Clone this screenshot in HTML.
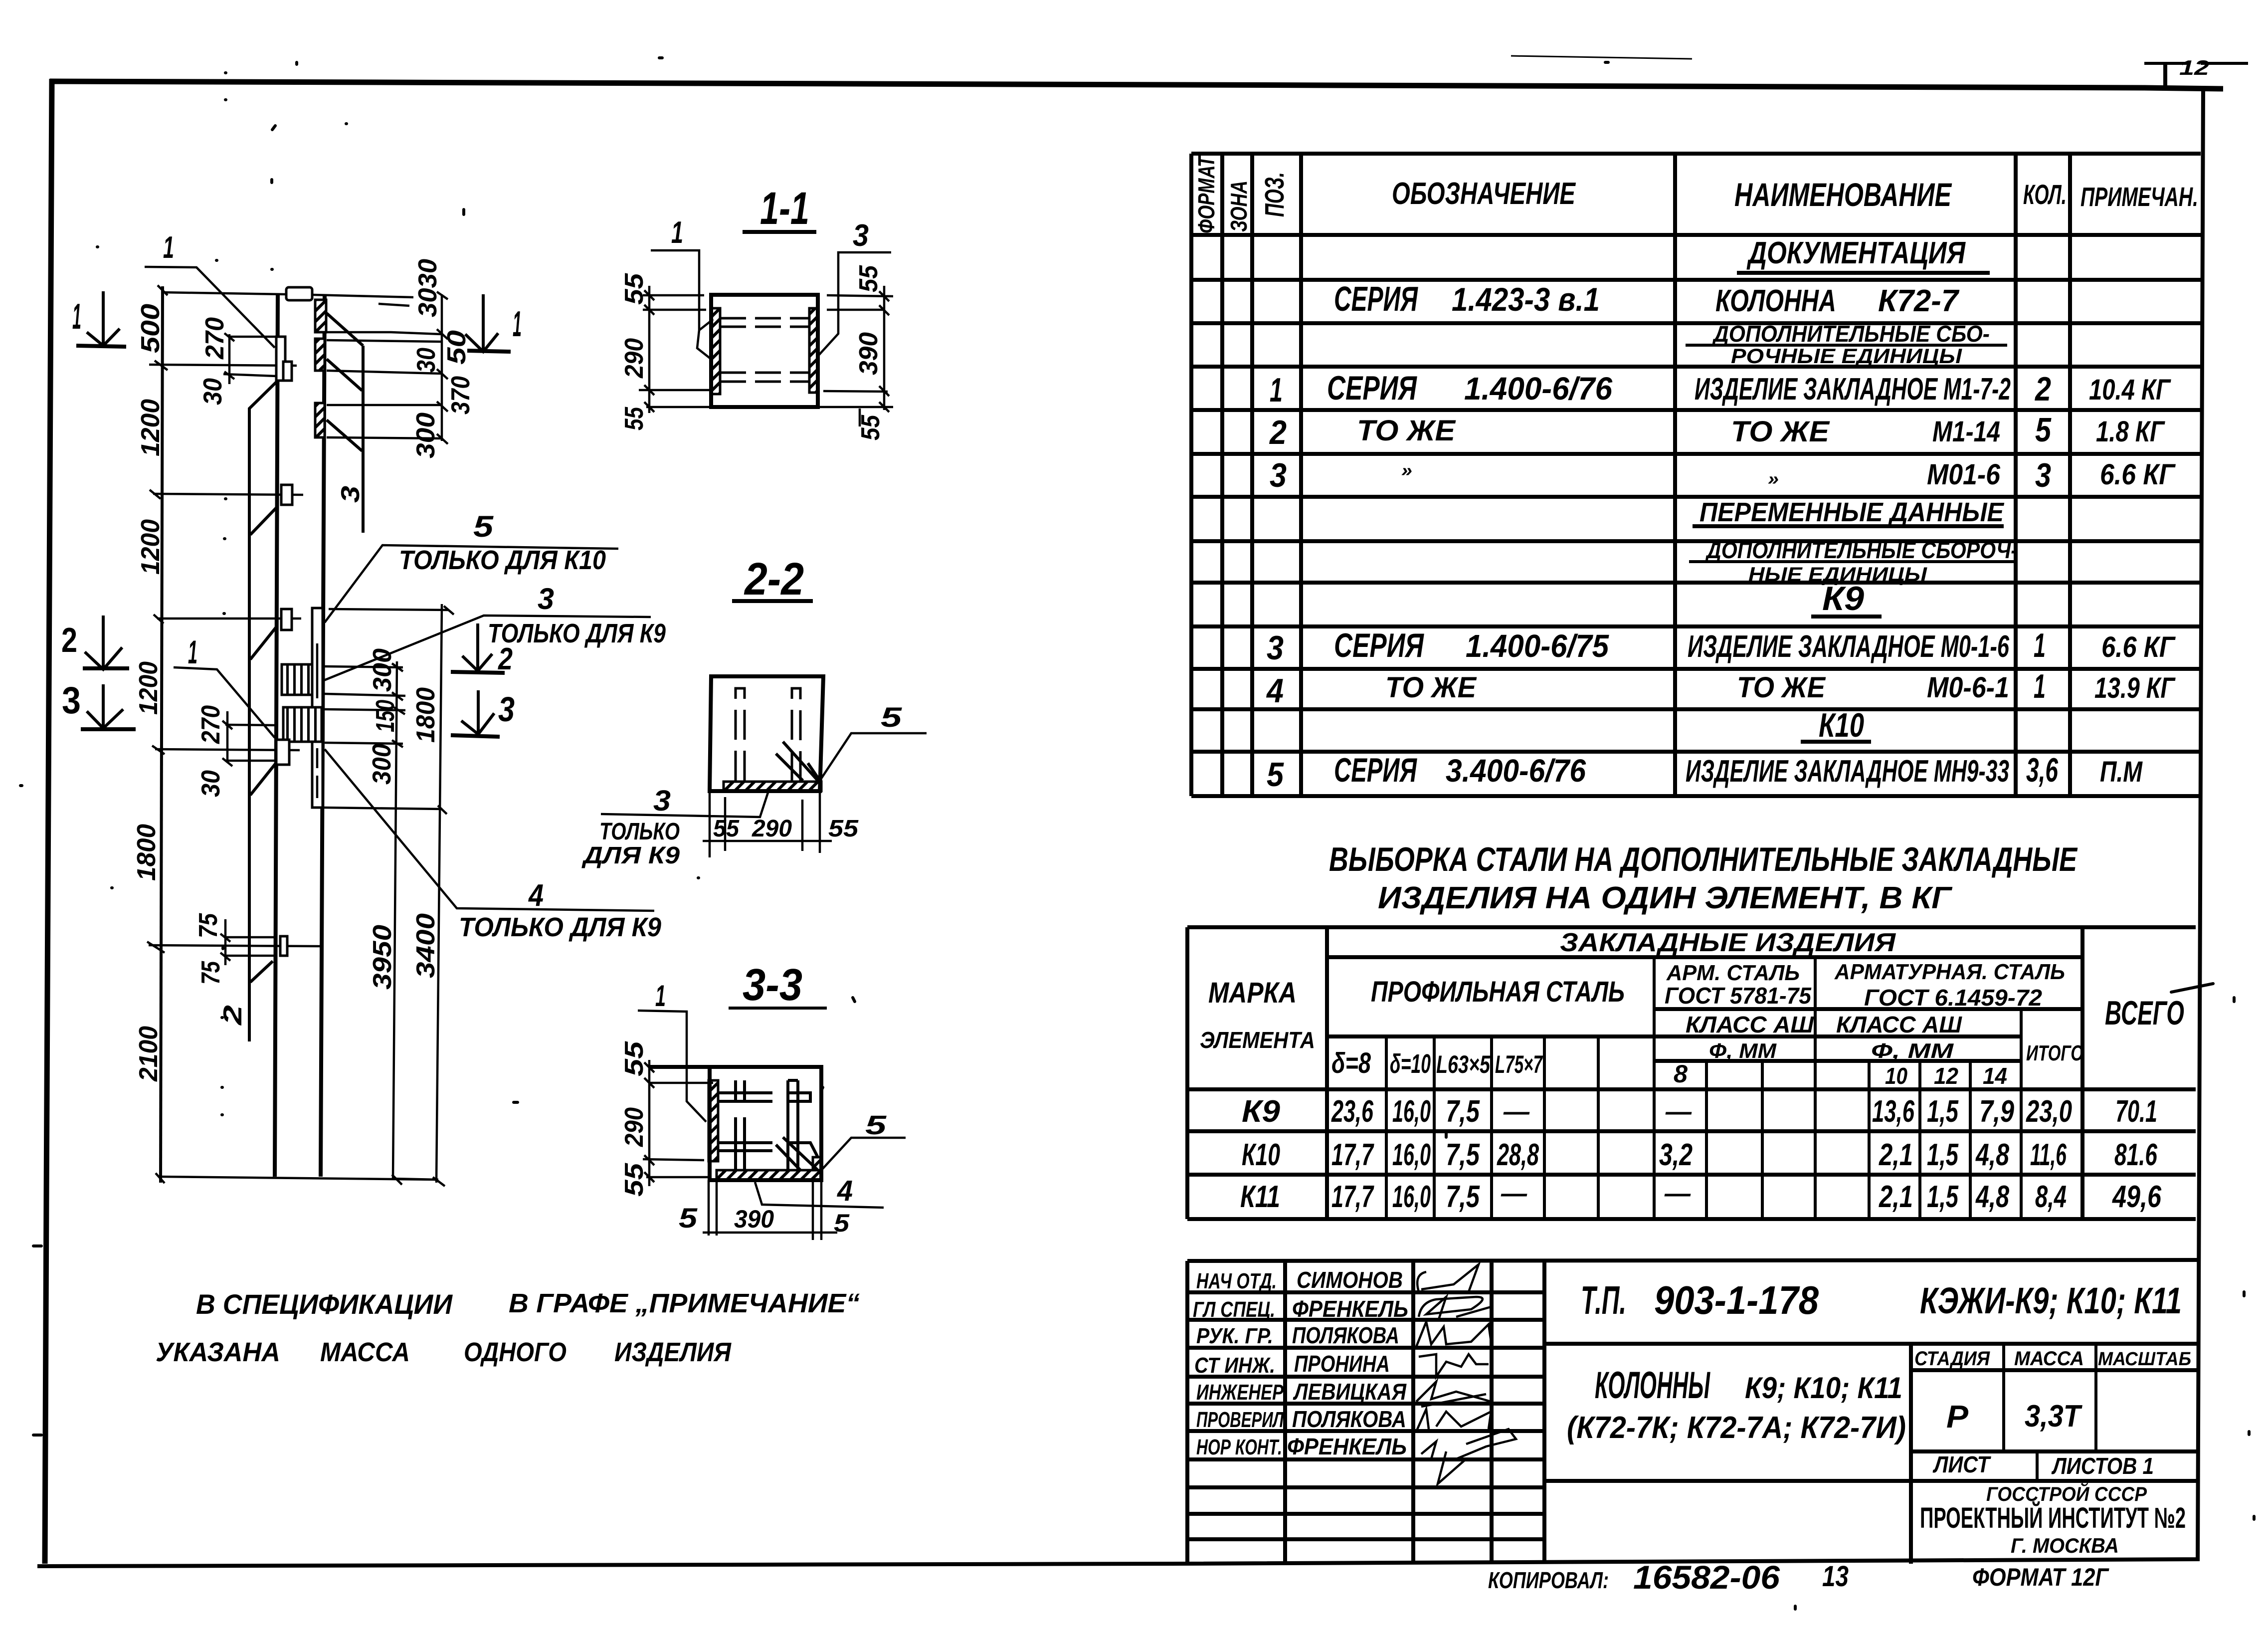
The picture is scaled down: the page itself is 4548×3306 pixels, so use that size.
<!DOCTYPE html>
<html lang="ru"><head><meta charset="utf-8"><title>Колонны К9; К10; К11</title>
<style>
html,body{margin:0;padding:0;background:#fff}
svg{display:block;font-family:"Liberation Sans","DejaVu Sans",sans-serif;font-style:italic;font-weight:bold;fill:#000;white-space:pre}
path,polyline,line{fill:none;stroke:#000;stroke-linecap:butt;stroke-linejoin:miter}
.f{stroke-width:11}.g{stroke-width:8}.m{stroke-width:6}.t{stroke-width:4.5}.x{stroke-width:3}
.d{stroke-width:5;stroke-dasharray:52 18}.d2{stroke-width:5;stroke-dasharray:60 22}
rect{stroke:#000;stroke-width:5}
pattern rect{stroke:none}
</style></head><body>
<svg width="4548" height="3306" viewBox="0 0 4548 3306">
<defs><pattern id="h" width="15" height="15" patternUnits="userSpaceOnUse" patternTransform="rotate(45)"><rect width="15" height="15" fill="#fff"/><rect width="6" height="15" fill="#000"/></pattern>
<pattern id="v" width="14" height="14" patternUnits="userSpaceOnUse"><rect width="14" height="14" fill="#fff"/><rect width="5" height="14" fill="#000"/></pattern></defs>

<!-- frame -->
<path class="f" d="M100,163L4300,176L4458,178M104,158L93,2400L90,3135"/>
<path class="g" d="M75,3140L2350,3135L4410,3126M4418,178L4407,3130"/>
<path class="g" d="M4342,125V178"/><path class="m" d="M4300,127H4392M4413,127H4508"/><path class="x" d="M3030,112L3393,118"/>
<text x="4370" y="150" font-size="42" textLength="60" lengthAdjust="spacingAndGlyphs">12</text>

<!-- main column elevation -->
<path class="g" d="M557,590L551,2359M651,590L643,2359"/>
<path class="m" d="M326,574L322,2371"/>
<path class="t" d="M323,586L572,590M626,591L829,596M299,731L595,733M307,990L608,992M315,1240L604,1240M311,1502L601,1504M298,1895L643,1897M319,2359L879,2365"/>
<rect x="574" y="576" width="52" height="26" rx="5" fill="#fff"/>
<rect x="564" y="972" width="22" height="40" fill="#fff"/><rect x="564" y="1221" width="21" height="42" fill="#fff"/><rect x="562" y="1877" width="14" height="39" fill="#fff"/>
<rect x="554" y="675" width="18" height="88" fill="#fff"/><rect x="568" y="725" width="17" height="38" fill="#fff"/>
<path class="t" d="M290,535L394,536L551,697"/>
<path class="m" d="M554,766L500,819V2088M554,1018L502,1072M554,1257L502,1322M554,1529L502,1594M547,1927L502,1969"/>
<rect x="632" y="601" width="22" height="65" fill="url(#h)"/><rect x="632" y="679" width="19" height="64" fill="url(#h)"/><rect x="632" y="808" width="19" height="69" fill="url(#h)"/>
<path class="m" d="M728,693V1068M655,628L728,693M655,720L726,783M655,842L726,904"/>
<path class="t" d="M655,666H784L886,670M655,682L886,685M655,743L886,749M655,812L886,812M655,877L886,879M886,590V884M759,609L821,613"/>
<!-- ticks -->
<path class="t" d="M316,572L336,592M310,723L336,742M300,982L322,1000M308,1232L328,1250M305,1495L330,1512M295,1888L330,1910M312,2352L330,2372M876,585L898,600M876,660L898,680M876,740L898,760M876,805L898,825M876,870L898,890M450,668L470,684M450,745L470,760M890,1215L910,1232M878,1615L896,1632M786,2355L806,2375M868,2360L892,2378M786,1330L808,1346M786,1388L808,1404M790,1418L812,1432M786,1484L808,1498M446,1445L466,1462M446,1520L466,1536M442,1872L462,1888M442,1910L462,1926"/>
<!-- section marks left -->
<path class="m" d="M207,584V693M174,666L207,693L240,659"/><path class="g" d="M153,693L253,695"/>
<path class="m" d="M969,590V705M933,670L969,705L999,668"/><path class="g" d="M937,703L1024,705"/>
<path class="m" d="M207,1234V1342M170,1307L207,1342L245,1298"/><path class="g" d="M166,1340H259"/>
<path class="m" d="M207,1372V1460M174,1426L207,1460L247,1422"/><path class="g" d="M162,1462H272"/>
<path class="m" d="M958,1250V1345M927,1315L958,1345L987,1311"/><path class="g" d="M904,1347L1012,1349"/>
<path class="m" d="M959,1384V1472M925,1445L959,1472L991,1430"/><path class="g" d="M904,1474L1002,1477"/>
<!-- plates middle -->
<rect x="626" y="1219" width="21" height="400" fill="#fff"/>
<path class="t" d="M636,1290V1400M636,1500V1540M636,1555V1600"/>
<rect x="565" y="1332" width="61" height="61" fill="url(#v)"/><rect x="568" y="1418" width="77" height="69" fill="url(#v)"/>
<rect x="554" y="1483" width="26" height="50" fill="#fff"/>
<path class="t" d="M651,1336L808,1338M651,1391L813,1395M651,1422L813,1424M651,1489L808,1491M647,1619L887,1622M659,1221L900,1223M796,1326L788,2363M886,1211L875,2371M788,2363L879,2365"/>
<path class="t" d="M651,1248L767,1093L1240,1100M647,1365L970,1234L1305,1237M651,1502L916,1821L1312,1826M348,1338L435,1342L551,1479"/>
<path class="t" d="M452,1453L554,1454M456,1426V1529M452,1525L554,1525M452,1879H554M452,1916H554M452,1843V1935M460,670V770M460,675H554M448,750L554,754"/>

<text x="327" y="517" font-size="62" textLength="22" lengthAdjust="spacingAndGlyphs">1</text>
<text x="145" y="659" font-size="72" textLength="18" lengthAdjust="spacingAndGlyphs">1</text>
<text x="1028" y="674" font-size="72" textLength="18" lengthAdjust="spacingAndGlyphs">1</text>
<text x="123" y="1307" font-size="70" textLength="32" lengthAdjust="spacingAndGlyphs" style="font-style:normal">2</text>
<text x="124" y="1430" font-size="76" textLength="38" lengthAdjust="spacingAndGlyphs" style="font-style:normal">3</text>
<text x="999" y="1342" font-size="62" textLength="29" lengthAdjust="spacingAndGlyphs">2</text>
<text x="999" y="1446" font-size="70" textLength="33" lengthAdjust="spacingAndGlyphs">3</text>
<text x="377" y="1330" font-size="66" textLength="19" lengthAdjust="spacingAndGlyphs">1</text>
<text x="949" y="1076" font-size="60" textLength="40" lengthAdjust="spacingAndGlyphs">5</text>
<text x="1078" y="1221" font-size="60" textLength="33" lengthAdjust="spacingAndGlyphs">3</text>
<text x="1060" y="1816" font-size="62" textLength="30" lengthAdjust="spacingAndGlyphs">4</text>
<text x="800" y="1141" font-size="54" textLength="415" lengthAdjust="spacingAndGlyphs">ТОЛЬКО  ДЛЯ   К10</text>
<text x="978" y="1288" font-size="54" textLength="357" lengthAdjust="spacingAndGlyphs">ТОЛЬКО ДЛЯ К9</text>
<text x="920" y="1877" font-size="54" textLength="406" lengthAdjust="spacingAndGlyphs">ТОЛЬКО ДЛЯ   К9</text>

<!-- rotated dims -->
<g font-size="52">
<text x="319" y="708" textLength="99" lengthAdjust="spacingAndGlyphs" transform="rotate(-90 319 708)">500</text>
<text x="319" y="915" textLength="115" lengthAdjust="spacingAndGlyphs" transform="rotate(-90 319 915)">1200</text>
<text x="319" y="1152" textLength="111" lengthAdjust="spacingAndGlyphs" transform="rotate(-90 319 1152)">1200</text>
<text x="315" y="1433" textLength="107" lengthAdjust="spacingAndGlyphs" transform="rotate(-90 315 1433)">1200</text>
<text x="311" y="1766" textLength="114" lengthAdjust="spacingAndGlyphs" transform="rotate(-90 311 1766)">1800</text>
<text x="315" y="2168" textLength="111" lengthAdjust="spacingAndGlyphs" transform="rotate(-90 315 2168)">2100</text>
<text x="448" y="720" textLength="84" lengthAdjust="spacingAndGlyphs" transform="rotate(-90 448 720)">270</text>
<text x="444" y="812" textLength="54" lengthAdjust="spacingAndGlyphs" transform="rotate(-90 444 812)">30</text>
<text x="875" y="636" textLength="117" lengthAdjust="spacingAndGlyphs" transform="rotate(-90 875 636)">3030</text>
<text x="872" y="747" textLength="50" lengthAdjust="spacingAndGlyphs" transform="rotate(-90 872 747)">30</text>
<text x="933" y="731" textLength="69" lengthAdjust="spacingAndGlyphs" transform="rotate(-90 933 731)">50</text>
<text x="941" y="831" textLength="77" lengthAdjust="spacingAndGlyphs" transform="rotate(-90 941 831)">370</text>
<text x="871" y="919" textLength="92" lengthAdjust="spacingAndGlyphs" transform="rotate(-90 871 919)">300</text>
<text x="720" y="1008" font-size="52" textLength="34" lengthAdjust="spacingAndGlyphs" transform="rotate(-90 720 1008)">3</text>
<text x="784" y="1387" textLength="87" lengthAdjust="spacingAndGlyphs" transform="rotate(-90 784 1387)">300</text>
<text x="790" y="1468" textLength="65" lengthAdjust="spacingAndGlyphs" transform="rotate(-90 790 1468)">150</text>
<text x="783" y="1573" textLength="82" lengthAdjust="spacingAndGlyphs" transform="rotate(-90 783 1573)">300</text>
<text x="871" y="1489" textLength="111" lengthAdjust="spacingAndGlyphs" transform="rotate(-90 871 1489)">1800</text>
<text x="440" y="1491" textLength="77" lengthAdjust="spacingAndGlyphs" transform="rotate(-90 440 1491)">270</text>
<text x="440" y="1598" textLength="54" lengthAdjust="spacingAndGlyphs" transform="rotate(-90 440 1598)">30</text>
<text x="435" y="1881" textLength="50" lengthAdjust="spacingAndGlyphs" transform="rotate(-90 435 1881)">75</text>
<text x="440" y="1974" textLength="47" lengthAdjust="spacingAndGlyphs" transform="rotate(-90 440 1974)">75</text>
<text x="784" y="1984" textLength="130" lengthAdjust="spacingAndGlyphs" transform="rotate(-90 784 1984)">3950</text>
<text x="871" y="1961" textLength="130" lengthAdjust="spacingAndGlyphs" transform="rotate(-90 871 1961)">3400</text>
<text x="484" y="2055" textLength="40" lengthAdjust="spacingAndGlyphs" transform="rotate(-90 484 2055)">2</text>
<!-- 1-1 -->
<text x="1289" y="611" textLength="63" lengthAdjust="spacingAndGlyphs" transform="rotate(-90 1289 611)">55</text>
<text x="1289" y="758" textLength="80" lengthAdjust="spacingAndGlyphs" transform="rotate(-90 1289 758)">290</text>
<text x="1289" y="863" textLength="47" lengthAdjust="spacingAndGlyphs" transform="rotate(-90 1289 863)">55</text>
<text x="1759" y="586" textLength="54" lengthAdjust="spacingAndGlyphs" transform="rotate(-90 1759 586)">55</text>
<text x="1759" y="752" textLength="86" lengthAdjust="spacingAndGlyphs" transform="rotate(-90 1759 752)">390</text>
<text x="1763" y="883" textLength="51" lengthAdjust="spacingAndGlyphs" transform="rotate(-90 1763 883)">55</text>
<!-- 3-3 -->
<text x="1289" y="2158" textLength="70" lengthAdjust="spacingAndGlyphs" transform="rotate(-90 1289 2158)">55</text>
<text x="1289" y="2299" textLength="79" lengthAdjust="spacingAndGlyphs" transform="rotate(-90 1289 2299)">290</text>
<text x="1289" y="2399" textLength="67" lengthAdjust="spacingAndGlyphs" transform="rotate(-90 1289 2399)">55</text>
</g>

<!-- Section 1-1 -->
<text x="1524" y="449" font-size="92" textLength="99" lengthAdjust="spacingAndGlyphs">1-1</text>
<path class="g" d="M1489,465H1637"/>
<rect x="1426" y="618" width="18" height="172" fill="url(#h)"/><rect x="1623" y="618" width="17" height="169" fill="url(#h)"/>
<path class="g" d="M1426,591H1640V816H1426Z"/>
<path class="d" d="M1444,638H1623M1444,655H1623M1444,747H1623M1444,765H1623"/>
<text x="1346" y="487" font-size="62" textLength="24" lengthAdjust="spacingAndGlyphs">1</text>
<text x="1710" y="493" font-size="62" textLength="32" lengthAdjust="spacingAndGlyphs">3</text>
<path class="t" d="M1305,502H1402V662L1430,640M1402,662L1398,698L1426,720M1787,506H1681V669L1640,714"/>
<path class="t" d="M1302,573V828M1289,592H1412M1289,621H1416M1281,782H1426M1296,816H1426M1773,573V822M1658,592L1791,594M1658,621H1773M1651,784L1780,785M1640,816H1791M1724,819V855M1292,582L1312,602M1292,611L1312,631M1292,772L1312,792M1292,806L1312,826M1763,584L1783,604M1763,612L1783,632M1763,774L1783,794M1763,806L1783,826"/>

<!-- Section 2-2 -->
<text x="1493" y="1192" font-size="92" textLength="119" lengthAdjust="spacingAndGlyphs">2-2</text>
<path class="g" d="M1468,1205H1630"/>
<rect x="1451" y="1567" width="196" height="19" fill="url(#h)"/>
<path class="g" d="M1423,1586L1426,1356H1651L1644,1586H1423Z"/>
<path class="d2" d="M1475,1565V1380H1493V1565M1588,1565V1380H1605V1565"/>
<path class="m" d="M1570,1487L1640,1565M1556,1511L1610,1565M1620,1530L1644,1565"/>
<path class="t" d="M1644,1565L1707,1470H1858M1205,1632L1524,1638L1541,1586M1423,1586V1719M1644,1586V1710M1454,1598V1706M1609,1603V1706M1409,1686H1668"/>
<text x="1766" y="1457" font-size="56" textLength="42" lengthAdjust="spacingAndGlyphs">5</text>
<text x="1310" y="1625" font-size="58" textLength="35" lengthAdjust="spacingAndGlyphs">3</text>
<text x="1202" y="1683" font-size="48" textLength="161" lengthAdjust="spacingAndGlyphs">ТОЛЬКО</text>
<text x="1170" y="1731" font-size="48" textLength="193" lengthAdjust="spacingAndGlyphs">ДЛЯ  К9</text>
<text x="1430" y="1677" font-size="48" textLength="52" lengthAdjust="spacingAndGlyphs">55</text>
<text x="1508" y="1677" font-size="48" textLength="80" lengthAdjust="spacingAndGlyphs">290</text>
<text x="1661" y="1677" font-size="48" textLength="60" lengthAdjust="spacingAndGlyphs">55</text>

<!-- Section 3-3 -->
<text x="1489" y="2005" font-size="90" textLength="120" lengthAdjust="spacingAndGlyphs">3-3</text>
<path class="m" d="M1461,2021H1658"/>
<rect x="1421" y="2166" width="19" height="162" fill="url(#h)"/><rect x="1437" y="2346" width="209" height="20" fill="url(#h)"/><rect x="1630" y="2320" width="16" height="26" fill="url(#h)"/>
<path class="g" d="M1303,2139H1647V2366H1423V2139"/>
<path class="m" d="M1440,2191H1549M1440,2208H1549M1440,2291H1549M1440,2307H1549M1580,2191H1625V2208H1580M1580,2291H1625L1640,2320M1475,2166V2210M1493,2166V2210M1475,2240V2346M1493,2240V2346M1580,2166V2346M1600,2166H1580M1600,2166V2346"/>
<path class="m" d="M1570,2280L1640,2346M1556,2295L1605,2346"/>
<path class="t" d="M1279,2026L1377,2028V2208L1416,2249M1647,2346L1707,2281H1816M1514,2370L1528,2415L1772,2421"/>
<path class="t" d="M1302,2125V2378M1303,2171H1430M1289,2324L1412,2326M1296,2360H1423M1421,2366V2477M1437,2366V2477M1630,2370V2486M1647,2370V2486M1409,2471H1679M1292,2130L1312,2150M1292,2161L1312,2181M1292,2316L1312,2336M1292,2350L1312,2370"/>
<text x="1314" y="2017" font-size="60" textLength="21" lengthAdjust="spacingAndGlyphs">1</text>
<text x="1735" y="2274" font-size="54" textLength="42" lengthAdjust="spacingAndGlyphs">5</text>
<text x="1679" y="2407" font-size="58" textLength="31" lengthAdjust="spacingAndGlyphs">4</text>
<text x="1361" y="2461" font-size="56" textLength="37" lengthAdjust="spacingAndGlyphs">5</text>
<text x="1472" y="2461" font-size="50" textLength="80" lengthAdjust="spacingAndGlyphs">390</text>
<text x="1672" y="2469" font-size="50" textLength="31" lengthAdjust="spacingAndGlyphs">5</text>

<!-- Note -->
<text x="393" y="2634" font-size="56" textLength="514" lengthAdjust="spacingAndGlyphs">В  СПЕЦИФИКАЦИИ</text>
<text x="1020" y="2631" font-size="54" textLength="704" lengthAdjust="spacingAndGlyphs">В   ГРАФЕ „ПРИМЕЧАНИЕ“</text>
<g font-size="54">
<text x="312" y="2729" textLength="250" lengthAdjust="spacingAndGlyphs">УКАЗАНА</text>
<text x="642" y="2729" textLength="180" lengthAdjust="spacingAndGlyphs">МАССА</text>
<text x="930" y="2729" textLength="206" lengthAdjust="spacingAndGlyphs">ОДНОГО</text>
<text x="1232" y="2729" textLength="234" lengthAdjust="spacingAndGlyphs">ИЗДЕЛИЯ</text>
</g>

<!-- Spec table -->
<path class="g" d="M2389,308H4413M2389,308V1596M2451,308V1596M2511,308V1596M2609,308V1596M3359,308V1596M4042,308V1596M4151,308V1596M2389,471H4413M2389,561H4413M2389,648H4413M2389,735H4413M2389,822H4413M2389,910H4413M2389,996H4413M2389,1085H4413M2389,1168H4413M2389,1256H4413M2389,1341H4413M2389,1422H4413M2389,1507H4413M2389,1596H4413"/>
<g font-size="46">
<text x="2435" y="468" textLength="155" lengthAdjust="spacingAndGlyphs" transform="rotate(-90 2435 468)">ФОРМАТ</text>
<text x="2500" y="465" textLength="103" lengthAdjust="spacingAndGlyphs" transform="rotate(-90 2500 465)">ЗОНА</text>
<text x="2574" y="435" font-size="54" textLength="90" lengthAdjust="spacingAndGlyphs" transform="rotate(-90 2574 435)">ПОЗ.</text>
</g>
<text x="2791" y="409" font-size="62" textLength="368" lengthAdjust="spacingAndGlyphs">ОБОЗНАЧЕНИЕ</text>
<text x="3478" y="413" font-size="66" textLength="435" lengthAdjust="spacingAndGlyphs">НАИМЕНОВАНИЕ</text>
<text x="4057" y="409" font-size="56" textLength="87" lengthAdjust="spacingAndGlyphs">КОЛ.</text>
<text x="4172" y="413" font-size="54" textLength="236" lengthAdjust="spacingAndGlyphs">ПРИМЕЧАН.</text>

<text x="3506" y="528" font-size="62" textLength="435" lengthAdjust="spacingAndGlyphs">ДОКУМЕНТАЦИЯ</text><path class="g" d="M3483,547H3990"/>
<text x="2675" y="623" font-size="70" textLength="168" lengthAdjust="spacingAndGlyphs">СЕРИЯ</text>
<text x="2911" y="623" font-size="66" textLength="297" lengthAdjust="spacingAndGlyphs">1.423-3  в.1</text>
<text x="3440" y="624" font-size="62" textLength="242" lengthAdjust="spacingAndGlyphs">КОЛОННА</text>
<text x="3766" y="624" font-size="62" textLength="161" lengthAdjust="spacingAndGlyphs">К72-7</text>
<text x="3436" y="685" font-size="46" textLength="554" lengthAdjust="spacingAndGlyphs">ДОПОЛНИТЕЛЬНЫЕ СБО-</text><path class="m" d="M3380,692H4025"/>
<text x="3471" y="728" font-size="42" textLength="463" lengthAdjust="spacingAndGlyphs">РОЧНЫЕ   ЕДИНИЦЫ</text>

<g font-size="68">
<text x="2546" y="805" textLength="26" lengthAdjust="spacingAndGlyphs">1</text>
<text x="2661" y="801" textLength="180" lengthAdjust="spacingAndGlyphs">СЕРИЯ</text>
<text x="2936" y="801" font-size="64" textLength="297" lengthAdjust="spacingAndGlyphs">1.400-6/76</text>
<text x="3398" y="801" font-size="62" textLength="634" lengthAdjust="spacingAndGlyphs">ИЗДЕЛИЕ ЗАКЛАДНОЕ М1-7-2</text>
<text x="4081" y="803" textLength="32" lengthAdjust="spacingAndGlyphs">2</text>
<text x="4189" y="801" font-size="58" textLength="163" lengthAdjust="spacingAndGlyphs">10.4 КГ</text>

<text x="2546" y="890" textLength="34" lengthAdjust="spacingAndGlyphs">2</text>
<text x="2721" y="883" font-size="58" textLength="197" lengthAdjust="spacingAndGlyphs">ТО   ЖЕ</text>
<text x="3471" y="885" font-size="58" textLength="197" lengthAdjust="spacingAndGlyphs">ТО   ЖЕ</text>
<text x="3875" y="885" font-size="58" textLength="136" lengthAdjust="spacingAndGlyphs">М1-14</text>
<text x="4081" y="885" textLength="32" lengthAdjust="spacingAndGlyphs">5</text>
<text x="4203" y="885" font-size="58" textLength="137" lengthAdjust="spacingAndGlyphs">1.8 КГ</text>

<text x="2546" y="976" textLength="34" lengthAdjust="spacingAndGlyphs">3</text>
<text x="2810" y="955" font-size="36" textLength="22" lengthAdjust="spacingAndGlyphs">»</text>
<text x="3545" y="972" font-size="36" textLength="22" lengthAdjust="spacingAndGlyphs">»</text>
<text x="3864" y="971" font-size="58" textLength="147" lengthAdjust="spacingAndGlyphs">М01-6</text>
<text x="4081" y="976" textLength="32" lengthAdjust="spacingAndGlyphs">3</text>
<text x="4211" y="971" font-size="58" textLength="150" lengthAdjust="spacingAndGlyphs">6.6 КГ</text>
</g>

<text x="3408" y="1045" font-size="54" textLength="610" lengthAdjust="spacingAndGlyphs">ПЕРЕМЕННЫЕ   ДАННЫЕ</text><path class="g" d="M3394,1055H4018"/>
<text x="3422" y="1119" font-size="46" textLength="624" lengthAdjust="spacingAndGlyphs">ДОПОЛНИТЕЛЬНЫЕ СБОРОЧ-</text><path class="m" d="M3387,1126H4039"/>
<text x="3506" y="1165" font-size="40" textLength="358" lengthAdjust="spacingAndGlyphs">НЫЕ   ЕДИНИЦЫ</text>
<text x="3654" y="1223" font-size="68" textLength="84" lengthAdjust="spacingAndGlyphs">К9</text><path class="g" d="M3632,1236H3773"/>

<g font-size="68">
<text x="2540" y="1322" textLength="34" lengthAdjust="spacingAndGlyphs">3</text>
<text x="2675" y="1317" textLength="180" lengthAdjust="spacingAndGlyphs">СЕРИЯ</text>
<text x="2939" y="1317" font-size="64" textLength="287" lengthAdjust="spacingAndGlyphs">1.400-6/75</text>
<text x="3384" y="1317" font-size="62" textLength="645" lengthAdjust="spacingAndGlyphs">ИЗДЕЛИЕ ЗАКЛАДНОЕ М0-1-6</text>
<text x="4078" y="1317" textLength="24" lengthAdjust="spacingAndGlyphs">1</text>
<text x="4214" y="1317" font-size="58" textLength="147" lengthAdjust="spacingAndGlyphs">6.6 КГ</text>
<text x="2540" y="1408" textLength="34" lengthAdjust="spacingAndGlyphs">4</text>
<text x="2778" y="1398" font-size="58" textLength="182" lengthAdjust="spacingAndGlyphs">ТО   ЖЕ</text>
<text x="3483" y="1398" font-size="58" textLength="177" lengthAdjust="spacingAndGlyphs">ТО   ЖЕ</text>
<text x="3864" y="1398" font-size="58" textLength="165" lengthAdjust="spacingAndGlyphs">М0-6-1</text>
<text x="4078" y="1399" textLength="24" lengthAdjust="spacingAndGlyphs">1</text>
<text x="4200" y="1399" font-size="58" textLength="161" lengthAdjust="spacingAndGlyphs">13.9 КГ</text>
<text x="3647" y="1477" textLength="91" lengthAdjust="spacingAndGlyphs">К10</text>
<text x="2540" y="1576" textLength="34" lengthAdjust="spacingAndGlyphs">5</text>
<text x="2675" y="1567" textLength="166" lengthAdjust="spacingAndGlyphs">СЕРИЯ</text>
<text x="2899" y="1567" font-size="64" textLength="281" lengthAdjust="spacingAndGlyphs">3.400-6/76</text>
<text x="3380" y="1567" font-size="62" textLength="649" lengthAdjust="spacingAndGlyphs">ИЗДЕЛИЕ ЗАКЛАДНОЕ МН9-33</text>
<text x="4063" y="1567" textLength="64" lengthAdjust="spacingAndGlyphs">3,6</text>
<text x="4211" y="1567" font-size="58" textLength="85" lengthAdjust="spacingAndGlyphs">П.М</text>
</g>
<path class="g" d="M3611,1487H3752"/>

<!-- Steel table title -->
<text x="2665" y="1746" font-size="68" textLength="1500" lengthAdjust="spacingAndGlyphs">ВЫБОРКА СТАЛИ НА  ДОПОЛНИТЕЛЬНЫЕ ЗАКЛАДНЫЕ</text>
<text x="2763" y="1821" font-size="62" textLength="1150" lengthAdjust="spacingAndGlyphs">ИЗДЕЛИЯ    НА  ОДИН   ЭЛЕМЕНТ,  В  КГ</text>

<!-- Steel table -->
<path class="g" d="M2381,1859H4403M2381,1859V2444M2661,1859V2444M4176,1859V2444M2661,1919H4176M3317,2023H4176M2661,2078H4053M3317,2127H4053M2381,2184H4403M2381,2268H4403M2381,2355H4403M2381,2444H4403"/>
<path class="m" d="M3317,1919V2444M3640,1919V2444M4053,2023V2444M2780,2078V2444M2876,2078V2444M2991,2078V2444M3097,2078V2444M3205,2078V2444M3422,2127V2444M3534,2127V2444M3748,2127V2444M3850,2127V2444M3951,2127V2444"/>
<text x="3128" y="1907" font-size="52" textLength="673" lengthAdjust="spacingAndGlyphs">ЗАКЛАДНЫЕ    ИЗДЕЛИЯ</text>
<text x="2749" y="2008" font-size="58" textLength="509" lengthAdjust="spacingAndGlyphs">ПРОФИЛЬНАЯ  СТАЛЬ</text>
<text x="3342" y="1965" font-size="44" textLength="267" lengthAdjust="spacingAndGlyphs">АРМ. СТАЛЬ</text>
<text x="3338" y="2012" font-size="46" textLength="294" lengthAdjust="spacingAndGlyphs">ГОСТ 5781-75</text>
<text x="3679" y="1963" font-size="44" textLength="462" lengthAdjust="spacingAndGlyphs">АРМАТУРНАЯ. СТАЛЬ</text>
<text x="3738" y="2016" font-size="46" textLength="357" lengthAdjust="spacingAndGlyphs">ГОСТ 6.1459-72</text>
<text x="3380" y="2070" font-size="46" textLength="257" lengthAdjust="spacingAndGlyphs">КЛАСС АШ</text>
<text x="3682" y="2070" font-size="46" textLength="252" lengthAdjust="spacingAndGlyphs">КЛАСС АШ</text>
<text x="3427" y="2121" font-size="42" textLength="135" lengthAdjust="spacingAndGlyphs">Ф, ММ</text>
<text x="3752" y="2121" font-size="42" textLength="165" lengthAdjust="spacingAndGlyphs">Ф, ММ</text>
<text x="3356" y="2170" font-size="50" textLength="28" lengthAdjust="spacingAndGlyphs">8</text>
<text x="3780" y="2173" font-size="46" textLength="45" lengthAdjust="spacingAndGlyphs">10</text>
<text x="3878" y="2173" font-size="46" textLength="49" lengthAdjust="spacingAndGlyphs">12</text>
<text x="3976" y="2173" font-size="46" textLength="49" lengthAdjust="spacingAndGlyphs">14</text>
<text x="4063" y="2126" font-size="44" textLength="115" lengthAdjust="spacingAndGlyphs">ИТОГО</text>
<text x="4221" y="2054" font-size="68" textLength="159" lengthAdjust="spacingAndGlyphs">ВСЕГО</text>
<text x="2423" y="2010" font-size="58" textLength="177" lengthAdjust="spacingAndGlyphs">МАРКА</text>
<text x="2406" y="2101" font-size="46" textLength="231" lengthAdjust="spacingAndGlyphs">ЭЛЕМЕНТА</text>
<text x="2670" y="2151" font-size="58" textLength="79" lengthAdjust="spacingAndGlyphs">δ=8</text>
<text x="2787" y="2151" font-size="54" textLength="82" lengthAdjust="spacingAndGlyphs">δ=10</text>
<text x="2880" y="2151" font-size="50" textLength="108" lengthAdjust="spacingAndGlyphs">L63×5</text>
<text x="2998" y="2151" font-size="50" textLength="95" lengthAdjust="spacingAndGlyphs">L75×7</text>

<g font-size="62">
<text x="2490" y="2249" textLength="77" lengthAdjust="spacingAndGlyphs">К9</text>
<text x="2670" y="2249" textLength="84" lengthAdjust="spacingAndGlyphs">23,6</text>
<text x="2792" y="2249" textLength="77" lengthAdjust="spacingAndGlyphs">16,0</text>
<text x="2899" y="2249" textLength="68" lengthAdjust="spacingAndGlyphs">7,5</text>
<text x="3015" y="2246" font-size="52" textLength="64">—</text>
<text x="3340" y="2246" font-size="52" textLength="40">—</text>
<text x="3754" y="2249" textLength="85" lengthAdjust="spacingAndGlyphs">13,6</text>
<text x="3864" y="2249" textLength="63" lengthAdjust="spacingAndGlyphs">1,5</text>
<text x="3969" y="2249" textLength="70" lengthAdjust="spacingAndGlyphs">7,9</text>
<text x="4063" y="2249" textLength="92" lengthAdjust="spacingAndGlyphs">23,0</text>
<text x="4242" y="2249" textLength="84" lengthAdjust="spacingAndGlyphs">70.1</text>

<text x="2490" y="2336" textLength="77" lengthAdjust="spacingAndGlyphs">К10</text>
<text x="2670" y="2336" textLength="84" lengthAdjust="spacingAndGlyphs">17,7</text>
<text x="2792" y="2336" textLength="77" lengthAdjust="spacingAndGlyphs">16,0</text>
<text x="2899" y="2336" textLength="68" lengthAdjust="spacingAndGlyphs">7,5</text>
<text x="3002" y="2336" textLength="84" lengthAdjust="spacingAndGlyphs">28,8</text>
<text x="3327" y="2336" textLength="67" lengthAdjust="spacingAndGlyphs">3,2</text>
<text x="3768" y="2336" textLength="68" lengthAdjust="spacingAndGlyphs">2,1</text>
<text x="3864" y="2336" textLength="63" lengthAdjust="spacingAndGlyphs">1,5</text>
<text x="3962" y="2336" textLength="67" lengthAdjust="spacingAndGlyphs">4,8</text>
<text x="4071" y="2336" textLength="73" lengthAdjust="spacingAndGlyphs">11,6</text>
<text x="4240" y="2336" textLength="86" lengthAdjust="spacingAndGlyphs">81.6</text>

<text x="2487" y="2420" textLength="80" lengthAdjust="spacingAndGlyphs">К11</text>
<text x="2670" y="2420" textLength="84" lengthAdjust="spacingAndGlyphs">17,7</text>
<text x="2792" y="2420" textLength="77" lengthAdjust="spacingAndGlyphs">16,0</text>
<text x="2899" y="2420" textLength="68" lengthAdjust="spacingAndGlyphs">7,5</text>
<text x="3010" y="2410" font-size="52" textLength="64">—</text>
<text x="3338" y="2410" font-size="52" textLength="64">—</text>
<text x="3768" y="2420" textLength="68" lengthAdjust="spacingAndGlyphs">2,1</text>
<text x="3864" y="2420" textLength="63" lengthAdjust="spacingAndGlyphs">1,5</text>
<text x="3962" y="2420" textLength="67" lengthAdjust="spacingAndGlyphs">4,8</text>
<text x="4081" y="2420" textLength="63" lengthAdjust="spacingAndGlyphs">8,4</text>
<text x="4236" y="2420" textLength="98" lengthAdjust="spacingAndGlyphs">49,6</text>
</g>

<!-- Title block -->
<path class="g" d="M2381,2528L4408,2526M2381,2528V3135M2577,2528V3135M2834,2528V3135M2991,2528V3135M3097,2528V3135M2381,2591H3097M2381,2646H3097M2381,2702H3097M2381,2760H3097M2381,2814H3097M2381,2869H3097M2381,2926H3097M2381,2982H3097M2381,3035H3097M2381,3086H3097M3097,2694H4408M3097,2969H4408M3832,2694V3135M3832,2747H4408M3832,2910H4408"/>
<path class="m" d="M4018,2694V2910M4203,2694V2910M4085,2910V2969"/>
<g font-size="44">
<text x="2399" y="2583" textLength="161" lengthAdjust="spacingAndGlyphs">НАЧ ОТД.</text>
<text x="2392" y="2640" textLength="165" lengthAdjust="spacingAndGlyphs">ГЛ СПЕЦ.</text>
<text x="2399" y="2693" textLength="154" lengthAdjust="spacingAndGlyphs">РУК. ГР.</text>
<text x="2395" y="2752" textLength="162" lengthAdjust="spacingAndGlyphs">СТ ИНЖ.</text>
<text x="2399" y="2806" textLength="175" lengthAdjust="spacingAndGlyphs">ИНЖЕНЕР</text>
<text x="2399" y="2861" textLength="175" lengthAdjust="spacingAndGlyphs">ПРОВЕРИЛ</text>
<text x="2399" y="2916" textLength="172" lengthAdjust="spacingAndGlyphs">НОР КОНТ.</text>
</g>
<g font-size="46">
<text x="2600" y="2582" textLength="213" lengthAdjust="spacingAndGlyphs">СИМОНОВ</text>
<text x="2591" y="2640" textLength="233" lengthAdjust="spacingAndGlyphs">ФРЕНКЕЛЬ</text>
<text x="2591" y="2693" textLength="215" lengthAdjust="spacingAndGlyphs">ПОЛЯКОВА</text>
<text x="2595" y="2750" textLength="192" lengthAdjust="spacingAndGlyphs">ПРОНИНА</text>
<text x="2595" y="2806" textLength="225" lengthAdjust="spacingAndGlyphs">ЛЕВИЦКАЯ</text>
<text x="2591" y="2861" textLength="229" lengthAdjust="spacingAndGlyphs">ПОЛЯКОВА</text>
<text x="2581" y="2916" textLength="240" lengthAdjust="spacingAndGlyphs">ФРЕНКЕЛЬ</text>
</g>
<!-- signatures -->
<path class="t" d="M2845,2590Q2835,2555 2860,2550M2850,2585L2915,2575L2965,2535L2945,2590M2845,2640Q2850,2610 2880,2605L2960,2600Q2990,2600 2950,2625L2860,2635L2900,2600L2885,2645M2920,2640L2990,2620M2840,2700L2860,2650L2870,2695L2895,2660L2900,2695L2950,2690L2985,2655L2990,2690M2845,2720L2880,2715L2880,2760L2900,2730L2930,2740L2945,2715L2960,2735H2985M2840,2810L2880,2770L2870,2805L2920,2790L2990,2810M2850,2820L2980,2795M2840,2870L2860,2825L2865,2865M2880,2860L2900,2830L2930,2860L2990,2830L2985,2865M2850,2915L2880,2890L2870,2925H2920L2980,2900L3040,2885L3025,2865L2940,2895M2940,2925L2883,2975L2900,2910"/>
<text x="3170" y="2634" font-size="80" textLength="91" lengthAdjust="spacingAndGlyphs">Т.П.</text>
<text x="3317" y="2634" font-size="80" textLength="330" lengthAdjust="spacingAndGlyphs">903-1-178</text>
<text x="3850" y="2633" font-size="74" textLength="525" lengthAdjust="spacingAndGlyphs">КЭЖИ-К9; К10; К11</text>
<text x="3198" y="2803" font-size="76" textLength="231" lengthAdjust="spacingAndGlyphs">КОЛОННЫ</text>
<text x="3499" y="2803" font-size="60" textLength="316" lengthAdjust="spacingAndGlyphs">К9; К10; К11</text>
<text x="3142" y="2883" font-size="62" textLength="680" lengthAdjust="spacingAndGlyphs">(К72-7К; К72-7А; К72-7И)</text>
<text x="3839" y="2737" font-size="40" textLength="151" lengthAdjust="spacingAndGlyphs">СТАДИЯ</text>
<text x="4039" y="2737" font-size="40" textLength="140" lengthAdjust="spacingAndGlyphs">МАССА</text>
<text x="4207" y="2737" font-size="38" textLength="187" lengthAdjust="spacingAndGlyphs">МАСШТАБ</text>
<text x="3903" y="2862" font-size="64" textLength="44" lengthAdjust="spacingAndGlyphs">Р</text>
<text x="4060" y="2860" font-size="62" textLength="112" lengthAdjust="spacingAndGlyphs">3,3Т</text>
<text x="3878" y="2952" font-size="46" textLength="112" lengthAdjust="spacingAndGlyphs">ЛИСТ</text>
<text x="4116" y="2955" font-size="46" textLength="203" lengthAdjust="spacingAndGlyphs">ЛИСТОВ 1</text>
<text x="3983" y="3009" font-size="40" textLength="322" lengthAdjust="spacingAndGlyphs">ГОССТРОЙ  СССР</text>
<text x="3850" y="3063" font-size="58" textLength="533" lengthAdjust="spacingAndGlyphs" style="font-style:normal">ПРОЕКТНЫЙ ИНСТИТУТ №2</text>
<text x="4032" y="3113" font-size="42" textLength="217" lengthAdjust="spacingAndGlyphs">Г. МОСКВА</text>
<text x="2984" y="3184" font-size="46" textLength="242" lengthAdjust="spacingAndGlyphs">КОПИРОВАЛ:</text>
<text x="3275" y="3185" font-size="66" textLength="294" lengthAdjust="spacingAndGlyphs">16582-06</text>
<text x="3654" y="3180" font-size="58" textLength="53" lengthAdjust="spacingAndGlyphs">13</text>
<text x="3955" y="3179" font-size="50" textLength="273" lengthAdjust="spacingAndGlyphs">ФОРМАТ 12Г</text>

<!-- specks -->
<path class="m" style="stroke-linecap:round" d="M452,146h1M452,200h1M595,125v4M546,260l6,-8M694,248h1M930,420v10M195,495h1M434,522h1M545,360v6M545,540h1M452,1000h1M450,1080h1M449,1230h1M224,1780h1M447,1900v2M445,2040h1M445,2180h1M445,2235h1M41,1575h3M67,2498h16M67,2877h16M1322,116h6M3219,125h6M2900,2270v10M3600,3220v6M4500,2590v8M4510,2870v6M4520,3040v6M4354,1989L4438,1972M4480,2000v8M1710,2000l4,8M1400,1760h1M1650,2180l-3,6M1030,2210h8"/>
</svg>
</body></html>
